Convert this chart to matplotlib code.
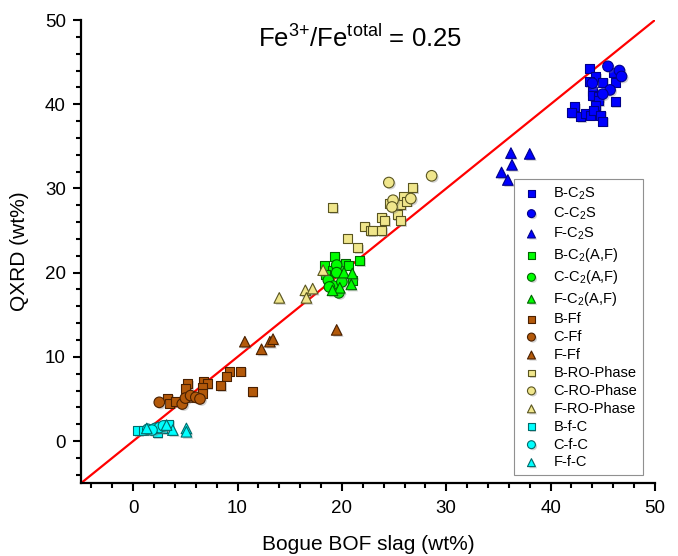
import matplotlib
matplotlib.use("Agg")
import matplotlib.pyplot as plt
import matplotlib.patheffects as pe
from matplotlib.ticker import MultipleLocator

plt.rcParams["font.family"] = ["Liberation Sans", "DejaVu Sans"]

# C2S
b_c2s_x = [43.7, 44.3, 43.7, 45.0, 46.0, 46.2, 44.0, 44.0, 44.6, 44.6, 44.3, 46.2, 42.3, 42.0, 42.9, 43.3, 43.8, 44.1, 44.8, 45.0]
b_c2s_y = [44.3, 43.3, 42.7, 42.6, 43.8, 42.6, 41.5, 41.0, 40.9, 40.4, 39.9, 40.3, 39.7, 39.0, 38.5, 38.9, 38.7, 39.3, 38.7, 38.0]
c_c2s_x = [45.5, 46.6, 46.8, 44.0, 45.7, 45.0]
c_c2s_y = [44.5, 44.0, 43.3, 42.5, 41.7, 41.2]
f_c2s_x = [36.2, 38.0, 36.3, 35.3, 35.9]
f_c2s_y = [34.2, 34.1, 32.8, 31.9, 31.0]

# C2(A,F)
b_c2af_x = [19.3, 18.3, 20.3, 20.6, 21.7, 19.1, 19.8, 18.4, 18.7, 21.0]
b_c2af_y = [21.9, 20.9, 21.1, 20.9, 21.4, 20.3, 20.2, 19.8, 19.2, 19.1]
c_c2af_x = [19.5, 19.5, 18.7, 19.2, 20.0, 19.7, 18.8]
c_c2af_y = [20.9, 20.0, 19.1, 18.4, 18.9, 17.6, 18.3]
f_c2af_x = [20.2, 21.0, 20.9, 19.8, 19.1]
f_c2af_y = [20.0, 19.9, 18.6, 18.2, 17.9]

# Ferrite
b_ff_x = [9.2, 10.3, 8.9, 11.4, 8.4, 6.7, 7.1, 6.6, 6.6, 5.2, 5.0, 3.3, 3.5, 4.1, 5.3]
b_ff_y = [8.3, 8.3, 7.7, 5.9, 6.6, 7.1, 6.8, 6.4, 5.7, 6.8, 6.3, 5.1, 4.5, 4.7, 5.2]
c_ff_x = [2.5, 4.7, 5.0, 5.5, 6.0, 6.4]
c_ff_y = [4.6, 4.4, 5.1, 5.4, 5.2, 5.0]
f_ff_x = [10.7, 12.3, 13.1, 13.4, 19.5]
f_ff_y = [11.8, 10.9, 11.8, 12.1, 13.2]

# RO phase
b_ro_x = [26.8, 25.9, 24.6, 25.6, 26.2, 25.3, 25.6, 23.8, 24.1, 22.2, 22.7, 22.9, 23.8, 20.5, 21.5, 19.1]
b_ro_y = [30.1, 29.0, 28.2, 28.1, 28.5, 26.9, 26.2, 26.6, 26.2, 25.5, 25.0, 25.0, 25.0, 24.1, 23.0, 27.7]
c_ro_x = [24.5, 28.6, 24.9, 24.8, 26.6]
c_ro_y = [30.7, 31.5, 28.6, 27.8, 28.8]
f_ro_x = [14.0, 16.5, 17.2, 16.6, 18.2]
f_ro_y = [17.0, 17.9, 18.1, 17.0, 20.3]

# free CaO
b_fc_x = [0.4, 1.0, 2.3, 3.4, 2.8]
b_fc_y = [1.2, 1.3, 1.0, 2.0, 1.5]
c_fc_x = [1.4, 2.1, 2.5, 2.9, 1.8]
c_fc_y = [1.4, 1.5, 1.6, 1.8, 1.3]
f_fc_x = [1.3, 3.8, 5.1, 5.1, 3.2]
f_fc_y = [1.5, 1.3, 1.5, 1.1, 1.9]

groups = [
    ("B-C$\\mathregular{_2}$S", b_c2s_x, b_c2s_y, "s", "#0000FF", "#00008B"),
    ("C-C$\\mathregular{_2}$S", c_c2s_x, c_c2s_y, "o", "#0000FF", "#00008B"),
    ("F-C$\\mathregular{_2}$S", f_c2s_x, f_c2s_y, "^", "#0000FF", "#00008B"),
    ("B-C$\\mathregular{_2}$(A,F)", b_c2af_x, b_c2af_y, "s", "#00FF00", "#006400"),
    ("C-C$\\mathregular{_2}$(A,F)", c_c2af_x, c_c2af_y, "o", "#00FF00", "#006400"),
    ("F-C$\\mathregular{_2}$(A,F)", f_c2af_x, f_c2af_y, "^", "#00FF00", "#006400"),
    ("B-Ff", b_ff_x, b_ff_y, "s", "#B3590A", "#4A2000"),
    ("C-Ff", c_ff_x, c_ff_y, "o", "#B3590A", "#4A2000"),
    ("F-Ff", f_ff_x, f_ff_y, "^", "#B3590A", "#4A2000"),
    ("B-RO-Phase", b_ro_x, b_ro_y, "s", "#F0E68C", "#5A5520"),
    ("C-RO-Phase", c_ro_x, c_ro_y, "o", "#F0E68C", "#5A5520"),
    ("F-RO-Phase", f_ro_x, f_ro_y, "^", "#F0E68C", "#5A5520"),
    ("B-f-C", b_fc_x, b_fc_y, "s", "#00FFFF", "#006B6B"),
    ("C-f-C", c_fc_x, c_fc_y, "o", "#00FFFF", "#006B6B"),
    ("F-f-C", f_fc_x, f_fc_y, "^", "#00FFFF", "#006B6B"),
]
sizes = {"s": 42, "o": 58, "^": 58}

fig = plt.figure(figsize=(6.78, 5.56), dpi=100)
ax = fig.add_axes([0.1195, 0.131, 0.8465, 0.833])

ax.plot([-5, 50], [-5, 50], color="red", lw=1.6, zorder=1)

shadow = [pe.SimplePatchShadow(offset=(1.2, -1.2), shadow_rgbFace="gray", alpha=0.35), pe.Normal()]
for label, xs, ys, m, fc, ec in groups:
    sc = ax.scatter(xs, ys, marker=m, s=sizes[m], facecolor=fc, edgecolor=ec,
                    linewidths=0.8, label=label, zorder=3)
    sc.set_path_effects(shadow)

ax.set_xlim(-5, 50)
ax.set_ylim(-5, 50)
ax.xaxis.set_major_locator(MultipleLocator(10))
ax.xaxis.set_minor_locator(MultipleLocator(2))
ax.yaxis.set_major_locator(MultipleLocator(10))
ax.yaxis.set_minor_locator(MultipleLocator(2))
for s in ["top", "right"]:
    ax.spines[s].set_visible(False)
for s in ["left", "bottom"]:
    ax.spines[s].set_linewidth(1.6)
ax.tick_params(which="major", direction="out", length=6, width=1.5, labelsize=13.5)
ax.tick_params(axis="x", which="major", pad=6)
ax.tick_params(axis="y", which="major", pad=5)
ax.tick_params(which="minor", direction="out", length=3.5, width=1.5)

ax.set_xlabel("Bogue BOF slag (wt%)", fontsize=15, labelpad=13)
ax.set_ylabel("QXRD (wt%)", fontsize=15, labelpad=11)

ax.text(0.486, 0.96, "Fe$\\mathregular{^{3{+}}}$/Fe$\\mathregular{^{total}}$ = 0.25",
        transform=ax.transAxes, ha="center", va="center", fontsize=18.5)

leg = ax.legend(loc="lower right", bbox_to_anchor=(0.979, 0.017), fontsize=10.5,
                frameon=True, fancybox=False, edgecolor="#909090", framealpha=1,
                markerscale=0.75, handletextpad=0.7, labelspacing=0.27,
                borderpad=0.4, handlelength=1.6, borderaxespad=0)
leg.get_frame().set_linewidth(0.8)

fig.savefig("out.png", dpi=100)
